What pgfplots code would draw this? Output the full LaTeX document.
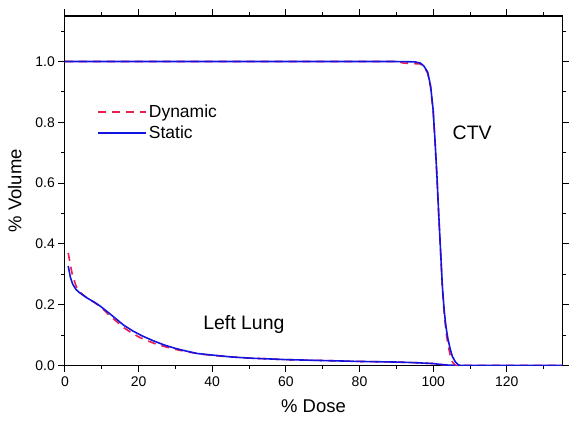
\documentclass[border=0pt]{standalone}
\usepackage{pgfplots}
\pgfplotsset{compat=1.18}
\usepackage{fontspec}
\setmainfont{Liberation Sans}
\definecolor{statblue}{RGB}{20,20,225}
\definecolor{dynred}{RGB}{235,30,80}
\begin{document}
\begin{tikzpicture}[x=1pt,y=1pt]
\begin{axis}[
  at={(65pt,57pt)},
  scale only axis,
  width=498pt, height=350pt,
  xmin=0, xmax=135, ymin=0, ymax=1.15,
  xtick={0,20,...,120}, minor xtick={10,30,...,130},
  ytick={0,0.2,...,1.0}, minor ytick={0.1,0.3,...,1.1},
  yticklabel style={/pgf/number format/.cd,fixed,fixed zerofill,precision=1},
  /pgf/number format/assume math mode=true,
  tick align=outside,
  major tick length=6.5pt, minor tick length=3.5pt,
  tick style={black, line width=0.9pt},
  axis line style={line width=1.1pt},
  ticklabel style={font=\fontsize{14}{16}\selectfont},
  xticklabel style={yshift=-1pt},
  xlabel={\% Dose}, ylabel={\% Volume},
  label style={font=\fontsize{18.5}{21}\selectfont},
  xlabel style={at={(0.5,0)}, anchor=north, yshift=-31pt},
  ylabel style={at={(0,0.5)}, anchor=south, yshift=40pt},
  clip=true,
  legend style={draw=none, fill=none, at={(0.065,0.752)}, anchor=north west,
    font=\fontsize{17.5}{20}\selectfont, row sep=3pt, inner sep=0pt},
  legend cell align=left,
]
\addlegendimage{legend image code/.code={\draw[dynred, line width=1.6pt, dash pattern=on 8pt off 6pt] (0pt,0pt) -- (48pt,0pt);}}
\addlegendentry{Dynamic}
\addlegendimage{legend image code/.code={\draw[statblue, line width=1.6pt] (0pt,0pt) -- (48pt,0pt);}}
\addlegendentry{Static}
% Dynamic CTV
\addplot[dynred, line width=1.6pt, dash pattern=on 8pt off 6pt, forget plot] coordinates {
(0,1.0)(90,1.0)(92,0.995)(95,0.993)(96.5,0.992)(97.5,0.983)(98.5,0.962)(99.3,0.915)(100,0.835)(100.5,0.735)(101,0.625)(101.5,0.495)(102,0.375)(102.5,0.255)(103,0.17)(103.5,0.11)(104,0.07)(104.6,0.035)(105.2,0.012)(105.8,0.002)(106.3,0)(135,0)};
% Static CTV
\addplot[statblue, line width=1.6pt, forget plot] coordinates {
(0,1.0)(90,1.0)(95,0.999)(96.5,0.995)(97.5,0.985)(98.5,0.965)(99.3,0.92)(100,0.84)(100.5,0.74)(101,0.63)(101.5,0.5)(102,0.38)(102.5,0.26)(103,0.18)(103.5,0.125)(104,0.088)(104.6,0.055)(105.2,0.03)(106,0.012)(106.8,0.002)(107.5,0)(135,0)};
% Dynamic lung
\addplot[dynred, line width=1.6pt, dash pattern=on 8pt off 6pt, forget plot] coordinates {
(0.9,0.37)(1.5,0.33)(2,0.30)(3,0.262)(4,0.242)(6,0.222)(8,0.207)(10,0.19)(12,0.165)(14,0.145)(16,0.124)(18,0.108)(20,0.094)(22,0.083)(25,0.069)(28,0.059)(31,0.05)(34,0.043)(37,0.037)(40,0.033)(45,0.028)(50,0.024)(60,0.019)(70,0.016)(80,0.013)(90,0.011)(95,0.009)(100,0.006)(102,0.003)(104,0.001)(106,0)};
% Static lung
\addplot[statblue, line width=1.6pt, forget plot] coordinates {
(0.9,0.327)(1.5,0.29)(2.1,0.268)(3,0.25)(4.1,0.238)(6,0.222)(8,0.208)(9.5,0.196)(12,0.172)(14,0.152)(16,0.132)(18.5,0.113)(21,0.097)(24,0.081)(27,0.067)(30,0.056)(33,0.047)(36,0.039)(40,0.034)(45,0.028)(50,0.024)(60,0.019)(70,0.016)(80,0.013)(90,0.011)(95,0.009)(100,0.006)(102,0.003)(104,0.001)(106,0)};
\node[font=\fontsize{19.5}{22}\selectfont] at (axis cs:110.6,0.767) {CTV};
\node[font=\fontsize{19.5}{22}\selectfont] at (axis cs:48.6,0.135) {Left Lung};
\end{axis}
\path (0,0) rectangle (569,423);
\end{tikzpicture}
\end{document}
